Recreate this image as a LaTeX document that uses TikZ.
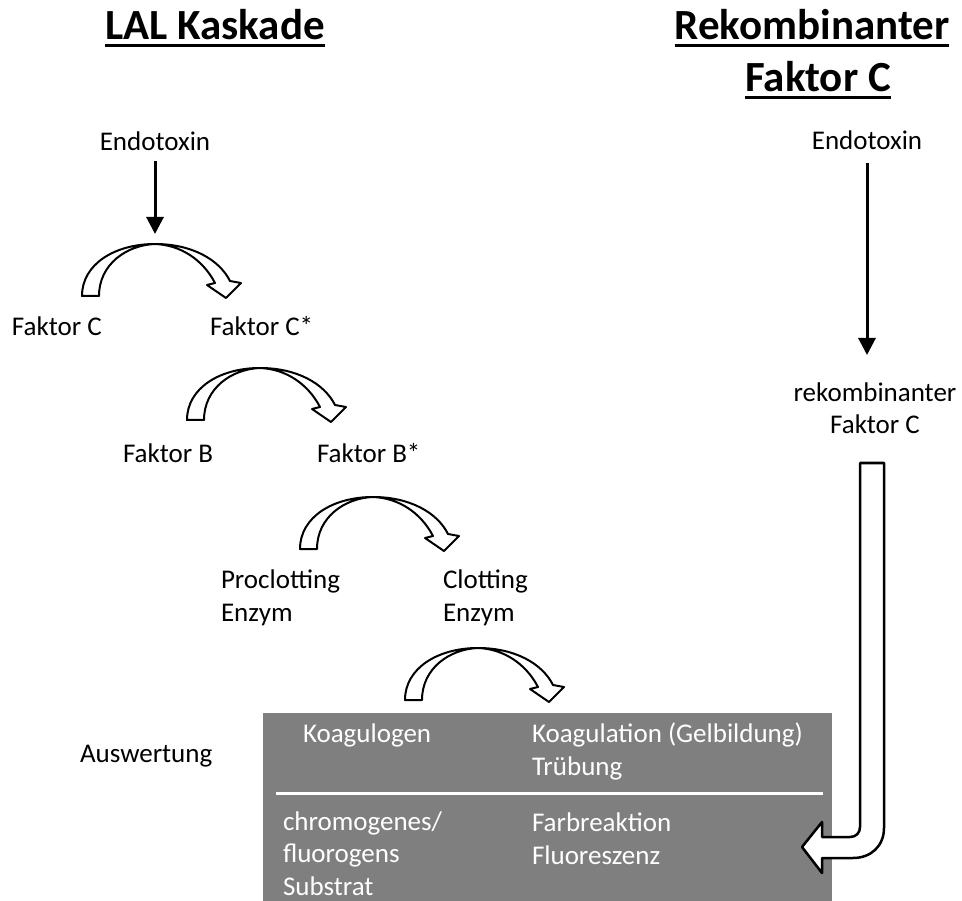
\documentclass[tikz,border=0pt]{standalone}
\usepackage{fontspec}
\setmainfont{Carlito}
\usetikzlibrary{arrows.meta,positioning}

\newcommand{\bodysize}{\fontsize{27}{32.5}\selectfont}
\newcommand{\titlesize}{\fontsize{43}{52}\selectfont\bfseries}
\definecolor{boxgray}{RGB}{127,127,127}

\begin{document}
\begin{tikzpicture}[x=1pt,y=-1pt,
			every node/.style={inner sep=0pt,outer sep=0pt,font=\bodysize},
			lbl/.style={anchor=base west,align=left},
			ttl/.style={anchor=base,font=\titlesize},
			uline/.style={line width=3pt},
			arr/.style={line width=3pt,-{Triangle[length=17pt,width=17pt]}},
			hollow/.style={draw=black,fill=white,line width=2pt,line join=round},
			bend arrow/.pic={
				\path[hollow] (-73,52) .. controls (-73,20) and (-40,0) .. (0,0)
					.. controls (36,0) and (64,15) .. (75,37) -- (86,39) -- (71,54) -- (52,41) -- (60,39)
					.. controls (48,16) and (26,1) .. (0,0)
					.. controls (-28,1) and (-56,20) .. (-56,52) -- cycle;
			}]
		\useasboundingbox (0,0) rectangle (962,901);

		\node[ttl] (tL) at (215,40) {LAL Kaskade};
		\node[ttl] (tR1) at (812,40) {Rekombinanter};
		\node[ttl] (tR2) at (818,92) {Faktor C};
		\foreach \t in {tL,tR1,tR2}
			\draw[uline] ([yshift=-5.5pt]\t.base west) -- ([yshift=-5.5pt]\t.base east);

		\node[anchor=base] (endoL) at (155,151) {Endotoxin};
		\coordinate (c1) at (155,244);
		\coordinate (c2) at (260,368);
		\coordinate (c3) at (373,497);
		\coordinate (c4) at (478,648);
		\draw[arr,shorten <=10pt,shorten >=10pt] (endoL.south) -- (c1);
		\foreach \c in {c1,c2,c3,c4}
			\pic at (\c) {bend arrow};

		\node[lbl] (fC) at (12,336) {Faktor C};
		\node[lbl] (fCs) at (210,336) {Faktor C*};
		\node[lbl] (fB) at (123,463) {Faktor B};
		\node[lbl] (fBs) at (317,463) {Faktor B*};
		\node[lbl] (pce) at (221,621) {Proclotting\\Enzym};
		\node[lbl] (ce) at (443,621) {Clotting\\Enzym};
		\node[lbl] (ausw) at (80,762) {Auswertung};

		\fill[boxgray] (263,713) rectangle (832,901);
		\draw[white,line width=3pt] (276,793) -- (823,793);
		\begin{scope}[every node/.append style={text=white}]
			\node[lbl] (koag) at (303,742) {Koagulogen};
			\node[lbl] (koagl) at (532,775) {Koagulation (Gelbildung)\\Trübung};
			\node[lbl] (chrom) at (283,895) {chromogenes/\\fluorogens\\Substrat};
			\node[lbl] (farb) at (532,864) {Farbreaktion\\Fluoreszenz};
		\end{scope}

		\node[anchor=base] (endoR) at (867,150) {Endotoxin};
		\node[anchor=base,align=center] (rekFC) at (875,434) {rekombinanter\\Faktor C};
		\coordinate (c5) at (867,355);
		\draw[arr,shorten <=13pt] (endoR.south) -- (c5);

		\path[hollow,line width=2.5pt] (860,463) -- (884,463) -- (884,828)
			.. controls (884,846) and (871,858) .. (853,858) -- (822,858) -- (822,873)
			-- (802,847) -- (822,822) -- (822,837) -- (850,837)
			.. controls (856,837) and (860,833) .. (860,827) -- cycle;
	\end{tikzpicture}
\end{document}
